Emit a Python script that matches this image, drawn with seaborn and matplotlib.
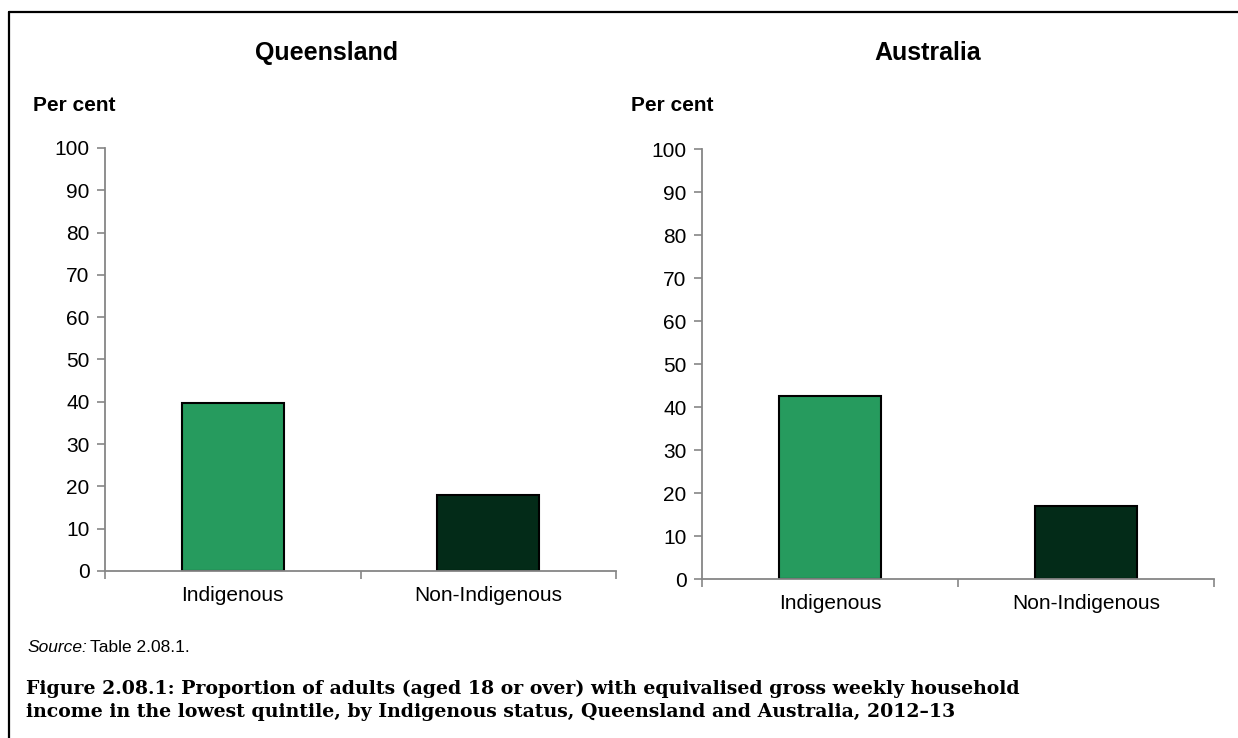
#bar chart: adults in the lowest income quintile by Indigenous status, Qld vs Australia
import pandas as pd
import matplotlib.pyplot as plt
import seaborn as sns
from matplotlib.lines import Line2D

#data
status = ["Indigenous", "Non-Indigenous"]
qld_pct = [39.6, 18.0]
aus_pct = [42.6, 17.0]
regions = ["Queensland", "Australia"]
bar_colours = ["#269B5E", "#032B18"]

source_note = "Table 2.08.1."
caption = ("Figure 2.08.1: Proportion of adults (aged 18 or over) with equivalised gross weekly household\n"
           "income in the lowest quintile, by Indigenous status, Queensland and Australia, 2012\u201313")

sns.set_style("white")
plt.rcParams["font.family"] = ["Liberation Sans", "DejaVu Sans"]
plt.rcParams["text.color"] = "black"
plt.rcParams["xtick.labelcolor"] = "black"
plt.rcParams["ytick.labelcolor"] = "black"

fig = plt.figure(figsize=(12.38, 7.38), dpi=100)
ax_q = fig.add_axes([0.0848, 0.2263, 0.4128, 0.5732])
ax_a = fig.add_axes([0.567, 0.2154, 0.4136, 0.5827])

axis_grey = "#868686"

for ax, vals in zip([ax_q, ax_a], [qld_pct, aus_pct]):
    df = pd.DataFrame({"status": status, "pct": vals})
    sns.barplot(data=df, x="status", y="pct", hue="status", palette=bar_colours,
                saturation=1, width=0.4, edgecolor="black", linewidth=1.5,
                legend=False, ax=ax)
    ax.set_xlim(-0.5, 1.5)
    ax.set_ylim(0, 100)
    ax.set_yticks(range(0, 101, 10))
    ax.set_xlabel("")
    ax.set_ylabel("")
    sns.despine(ax=ax)
    for side in ["left", "bottom"]:
        ax.spines[side].set_color(axis_grey)
        ax.spines[side].set_linewidth(1.3)
    ax.tick_params(axis="y", direction="out", length=6, width=1.2, color=axis_grey,
                   labelsize=15, pad=5, left=True)
    ax.set_xticks([-0.5, 0.5, 1.5], minor=True)
    ax.tick_params(axis="x", which="minor", direction="out", length=6, width=1.2,
                   color=axis_grey, bottom=True)
    ax.tick_params(axis="x", which="major", length=0, labelsize=15, pad=11)

#panel titles and y-axis labels
fig.text(0.264, 0.928, regions[0], ha="center", va="center", fontsize=18, fontweight="bold")
fig.text(0.749, 0.928, regions[1], ha="center", va="center", fontsize=18, fontweight="bold")
fig.text(0.027, 0.857, "Per cent", ha="left", va="center", fontsize=15, fontweight="bold")
fig.text(0.510, 0.857, "Per cent", ha="left", va="center", fontsize=15, fontweight="bold")

#source line and figure caption
fig.text(0.022, 0.122, "Source:", ha="left", va="center", fontsize=12.5, style="italic")
fig.text(0.073, 0.122, source_note, ha="left", va="center", fontsize=12.5)
fig.text(0.021, 0.051, caption, ha="left", va="center", fontsize=13.6, fontweight="bold",
         family=["DejaVu Serif"], linespacing=1.4)

#frame around the chart area (top and left edges visible)
fig.add_artist(Line2D([0.0073, 1.0], [0.9837, 0.9837], color="black", lw=1.6,
                      transform=fig.transFigure))
fig.add_artist(Line2D([0.0073, 0.0073], [0.0, 0.9837], color="black", lw=1.6,
                      transform=fig.transFigure))

fig.savefig("out.png", dpi=100)
